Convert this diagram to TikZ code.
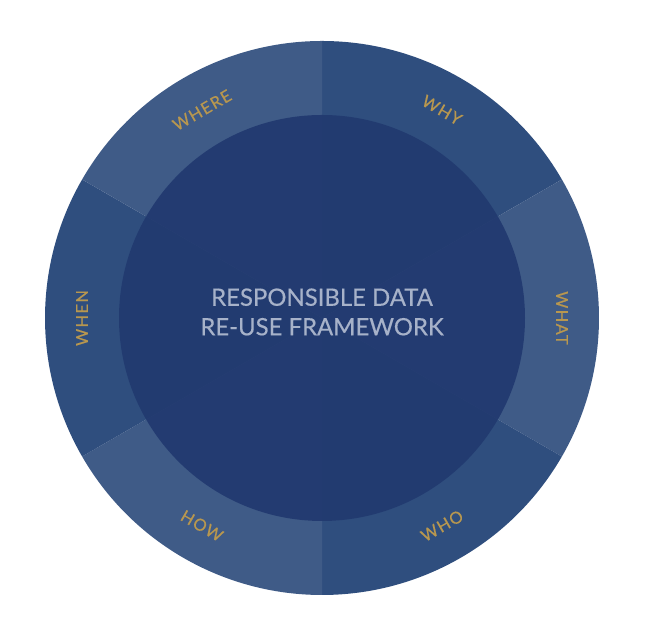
\documentclass[tikz,border=0pt]{standalone}
\usepackage{fontspec}
\setmainfont{Lato}
\definecolor{ringlight}{HTML}{3F5B87}
\definecolor{ringdark}{HTML}{2F4E7E}
\definecolor{hubblue}{HTML}{223A70}
\definecolor{labelgold}{HTML}{B8974F}
\definecolor{hubtext}{HTML}{A7B2C9}
\begin{document}
\begin{tikzpicture}[x=0.2mm,y=0.2mm]
      \useasboundingbox (0,0) rectangle (650,635);
      \coordinate (c) at (322,317);
      % ring of six sectors
      \foreach \a/\col in {90/ringdark,30/ringlight,-30/ringdark,-90/ringlight,-150/ringdark,150/ringlight} {
      \fill[\col] (c)--++(\a:277) arc[start angle=\a,end angle=\a-60,radius=277]--cycle;
      }
      \fill[hubblue,fill opacity=0.95] (c) circle (203);
      \node[text=hubtext,align=center,font=\fontsize{13.6}{16.8}\selectfont\addfontfeature{FakeBold=0.4}] (hub) at (322,323) {RESPONSIBLE DATA\\RE-USE FRAMEWORK};
      \foreach \a/\r/\txt in {60/-30/WHY,0/-90/WHAT,-60/30/WHO,-120/-30/HOW,180/90/WHEN,120/30/WHERE} {
      \path (c)++(\a:240) node[text=labelgold,rotate=\r,font=\fontsize{9.4}{10}\selectfont\addfontfeature{LetterSpace=8,FakeBold=0.5}] (\txt) {\txt};
      }
    \end{tikzpicture}
\end{document}
